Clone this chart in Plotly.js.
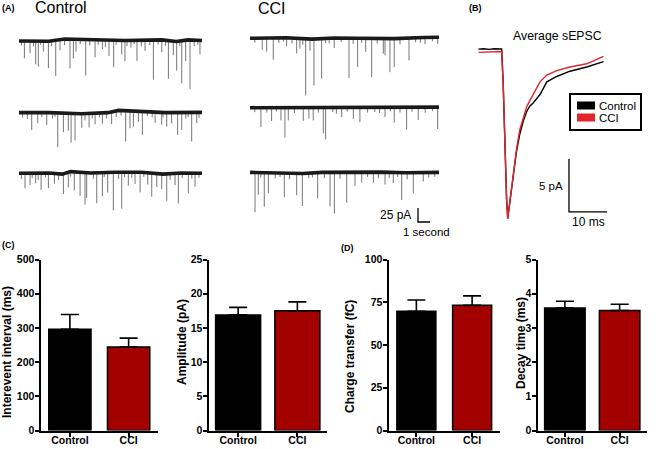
<!DOCTYPE html>
<html><head><meta charset="utf-8">
<script src="https://cdn.plot.ly/plotly-3.0.1.min.js"></script>
<style>html,body{margin:0;padding:0;background:#fff}#chart{width:667px;height:449px}</style>
</head><body><div id="chart"></div>
<script>
// ---------- DATA ----------
const groups = ["Control", "CCI"];
const intervalMean = [296, 244];
const intervalSem = [43, 26];
const ampMean = [16.9, 17.5];
const ampSem = [1.1, 1.3];
const chargeMean = [69.7, 73.2];
const chargeSem = [6.6, 5.5];
const decayMean = [3.58, 3.51];
const decaySem = [0.2, 0.18];

// Panel B: average sEPSC (time ms, current pA)
const avgTimeCtrl = [-6.2,-4.8,-3.4,-2.0,-0.6,-0.1,0.3,0.8,1.2,1.5,1.9,2.4,2.97,3.8,4.7,5.6,6.5,7.3,8.2,9.1,10.0,11.8,14.4,17.9,22.3,26.7];
const avgCurCtrl  = [0.08,0.12,0.06,0.12,0.1,0.1,-3,-9.5,-14,-15.9,-14.8,-13.2,-11.6,-9.6,-7.9,-6.7,-5.8,-5.3,-5.0,-4.6,-4.2,-3.0,-2.5,-2.0,-1.6,-1.1];
const avgTimeCci  = [-6.2,-4.8,-3.4,-2.0,-0.6,-0.1,0.3,0.8,1.2,1.5,1.9,2.4,2.97,3.8,4.7,5.6,6.5,7.3,8.2,9.1,10.0,11.8,14.4,17.9,22.3,26.7];
const avgCurCci   = [-0.22,-0.2,-0.24,-0.18,-0.16,-0.15,-3,-9.5,-14,-15.9,-14.8,-13.2,-11.5,-9.4,-7.5,-6.3,-5.35,-4.8,-4.25,-3.6,-3.0,-2.36,-1.95,-1.6,-1.3,-0.6];

// Panel A: sEPSC event times (s) and amplitudes (pA) per sweep, plus baseline drift
const ctrl1Times = [0.45,0.92,1.39,1.61,2.03,2.45,3.06,3.42,4.25,4.53,4.75,5.56,6.34,6.95,7.5,7.89,8.56,8.83,9.33,9.83,10.5,11.2,11.9,12.45,12.86,13.14,13.56,13.89,14.25,15.08, 0.2,1.2,1.8,2.7,3.8,5.1,5.9,6.6,7.2,8.1,9.0,9.6,10.2,10.9,11.6,12.2,13.4,14.6,14.9];
const ctrl1Amps  = [31,22,42,46,19,48,64,19,52,34,22,64,31,16,28,48,25,37,13,37,19,71,22,68,25,52,76,37,88,25, 8,10,7,9,11,8,10,9,12,8,10,7,11,9,8,10,9,11,8];
const ctrl1BaseT = [0,1.3,2.5,3.8,5.2,6.9,8.8,10.8,11.9,13.1,14.1,15.25];
const ctrl1BaseV = [-0.5,0,-1,3,2,1,0.5,1,1.5,-1.5,1.5,0.5];

const ctrl2Times = [1.06,1.56,2.31,3.23,3.7,4.11,4.34,4.67,5.23,5.84,6.34,6.95,7.72,8.89,9.25,9.53,9.95,10.28,11.34,11.89,12.31,12.72,13.22,13.56,14.39,14.81, 0.3,0.7,1.9,2.8,3.0,5.5,6.1,6.7,7.3,8.1,8.5,10.7,11.1,12.0,13.9,14.1,15.0];
const ctrl2Amps  = [31,19,22,61,34,31,52,48,25,25,20,19,22,55,31,28,19,42,19,22,25,19,40,31,52,19, 9,11,8,10,7,12,9,8,10,11,9,8,10,9,11,8,10];
const ctrl2BaseT = [0,2.5,5.2,7.4,8.3,10.8,12.2,15.25];
const ctrl2BaseV = [0,0,-2,0,4,2,0,0.5];

const ctrl3Times = [0.5,0.92,1.39,1.84,2.45,2.95,3.7,4.11,4.61,5.09,5.5,5.64,6.48,6.95,7.39,7.86,8.56,9.11,9.67,10.09,10.73,11.06,11.48,11.89,12.31,13.0,13.28,14.11,14.67, 0.2,1.1,1.6,2.2,3.3,4.3,6.2,7.1,8.3,8.8,9.4,10.4,12.6,13.6,14.4,15.0];
const ctrl3Amps  = [27,21,18,30,27,18,36,27,33,42,57,45,54,42,36,68,65,24,21,36,21,42,24,27,48,21,54,36,24, 10,9,12,8,11,9,10,8,12,9,10,8,11,9,10,8];
const ctrl3BaseT = [0,2.5,3.6,4.3,6.0,8.0,10.2,12.0,13.5,15.25];
const ctrl3BaseV = [0,0.5,-1.5,3,0.5,2,2,-1.5,0.5,0];

const cci1Times = [1.02,1.39,1.94,3.05,3.89,4.16,4.64,5.0,5.33,5.97,7.02,8.25,8.97,9.64,10.14,11.11,11.25,11.66,12.02,13.25,14.58,15.64, 0.4,2.4,2.8,3.5,4.4,6.3,6.6,7.6,8.6,9.3,10.6,12.5,13.8,14.2,15.2];
const cci1Amps  = [21,24,39,15,27,18,101,21,83,71,18,71,51,24,69,27,30,60,51,40,12,12, 8,9,7,10,11,8,9,7,10,8,9,11,8,9,7];
const cci1BaseT = [0,3,5.2,7,9,12,14.5,15.75];
const cci1BaseV = [0,1,-1.5,0.5,0,-0.5,1.5,2];

const cci2Times = [0.91,1.8,2.58,2.91,3.19,4.44,4.91,5.27,6.11,6.3,7.64,8.61,9.16,11.25,12.02,13.05,14.02,15.64, 0.4,1.4,2.2,3.7,5.7,6.9,7.2,8.1,9.8,10.4,10.8,11.7,12.5,13.5,14.6,15.2];
const cci2Amps  = [35,24,23,54,23,24,20,23,46,57,17,20,26,17,27,40,23,39, 8,9,7,10,9,8,11,7,9,8,10,7,9,8,10,7];
const cci2BaseT = [0,4,8,12,15.75];
const cci2BaseV = [0,0.5,0,0.5,1];

const cci3Times = [0.42,0.69,1.19,1.53,2.86,3.89,4.36,5.64,6.67,7.03,8.06,8.75,9.31,10.28,11.25,11.94,12.64,13.61,14.44, 0.9,2.1,2.5,3.3,4.9,5.2,6.2,7.5,9.8,10.7,11.6,12.3,13.1,14.9,15.4];
const cci3Amps  = [71,40,61,37,43,39,58,46,61,74,55,25,19,19,22,19,49,37,16, 9,10,8,11,9,8,10,12,9,11,10,8,12,9,8];
const cci3BaseT = [0,2.5,4.4,6,8.5,11,13,15.75];
const cci3BaseV = [0.5,0,-1.5,0.5,1.5,1,0,0.5];

const scalePA = 25, scaleSec = 1;   // panel A scale bar
const scaleBpA = 5, scaleBms = 10;  // panel B scale bar

// ---------- LAYOUT HELPERS ----------
const W = 667, H = 449;
const px = p => p / W, py = p => 1 - p / H;
const FONT = 'Liberation Sans, Arial, Helvetica, sans-serif';
const RED = '#e3232b', DARKRED = '#a30000';

function interp(ts, vs, t) {
  if (t <= ts[0]) return vs[0];
  for (let i = 1; i < ts.length; i++) {
    if (t <= ts[i]) { const f = (t - ts[i-1]) / (ts[i] - ts[i-1]); return vs[i-1] + f * (vs[i] - vs[i-1]); }
  }
  return vs[vs.length - 1];
}

const sweeps = [
  {t: ctrl1Times, a: ctrl1Amps, bt: ctrl1BaseT, bv: ctrl1BaseV, xo: 0, yo: -72.7},
  {t: ctrl2Times, a: ctrl2Amps, bt: ctrl2BaseT, bv: ctrl2BaseV, xo: 0, yo: -201.2},
  {t: ctrl3Times, a: ctrl3Amps, bt: ctrl3BaseT, bv: ctrl3BaseV, xo: 0, yo: -309.5},
  {t: cci1Times, a: cci1Amps, bt: cci1BaseT, bv: cci1BaseV, xo: 19.25, yo: -68.4},
  {t: cci2Times, a: cci2Amps, bt: cci2BaseT, bv: cci2BaseV, xo: 19.25, yo: -192.3},
  {t: cci3Times, a: cci3Amps, bt: cci3BaseT, bv: cci3BaseV, xo: 19.25, yo: -308.4}
];

const traces = [];
sweeps.forEach(s => {
  const x = [], y = [];
  s.t.forEach((t, i) => {
    const b = s.yo + interp(s.bt, s.bv, t);
    x.push(s.xo + t, s.xo + t, null);
    y.push(b, b - s.a[i], null);
  });
  traces.push({type: 'scatter', mode: 'lines', x, y, xaxis: 'x', yaxis: 'y',
    line: {color: '#767676', width: 1}, hoverinfo: 'skip', connectgaps: false});
});
sweeps.forEach(s => {
  traces.push({type: 'scatter', mode: 'lines', x: s.bt.map(t => t + s.xo), y: s.bv.map(v => v + s.yo),
    xaxis: 'x', yaxis: 'y', line: {color: '#1a1a1a', width: 3.6}, hoverinfo: 'skip'});
});
// panel A scale bar
const sbx = 33.25, sby = -396.4;
traces.push({type: 'scatter', mode: 'lines', x: [sbx, sbx, sbx + scaleSec], y: [sby + scalePA, sby, sby],
  xaxis: 'x', yaxis: 'y', line: {color: '#000', width: 1.3}, hoverinfo: 'skip'});

// panel B
traces.push({type: 'scatter', mode: 'lines', x: avgTimeCtrl, y: avgCurCtrl, xaxis: 'x2', yaxis: 'y2',
  line: {color: '#000', width: 1.4}, hoverinfo: 'skip'});
traces.push({type: 'scatter', mode: 'lines', x: avgTimeCci, y: avgCurCci, xaxis: 'x2', yaxis: 'y2',
  line: {color: RED, width: 1.4}, hoverinfo: 'skip'});
const bbx = 17.63, bby = -15.28;
traces.push({type: 'scatter', mode: 'lines', x: [bbx, bbx, bbx + scaleBms], y: [bby + scaleBpA, bby, bby],
  xaxis: 'x2', yaxis: 'y2', line: {color: '#000', width: 1.3}, hoverinfo: 'skip'});

// bar panels
const barSets = [
  {m: intervalMean, e: intervalSem, ax: '3', w: 0.72},
  {m: ampMean, e: ampSem, ax: '4', w: 0.76},
  {m: chargeMean, e: chargeSem, ax: '5', w: 0.7},
  {m: decayMean, e: decaySem, ax: '6', w: 0.74}
];
barSets.forEach(b => {
  traces.push({type: 'bar', x: groups, y: b.m, xaxis: 'x' + b.ax, yaxis: 'y' + b.ax, width: b.w,
    marker: {color: ['#000', DARKRED], line: {color: '#000', width: 1.5}},
    error_y: {type: 'data', array: b.e, arrayminus: [0, 0], symmetric: false, color: '#000', thickness: 1.6, width: 9},
    hoverinfo: 'skip'});
});

function hidden(dom, range) { return {domain: dom, range: range, visible: false, fixedrange: true}; }
function barX(x0, x1, anchor) {
  return {domain: [px(x0), px(x1)], anchor: anchor, type: 'category', range: [-0.5, 1.5],
    showline: true, linewidth: 2, linecolor: '#000', ticks: 'outside', ticklen: 4, tickwidth: 2, tickcolor: '#000',
    ticklabelstandoff: -5,
    tickfont: {family: FONT, size: 10.5, color: '#000', weight: 'bold'}, showgrid: false, zeroline: false, fixedrange: true};
}
function barY(range, dtick, anchor) {
  return {domain: [py(430.5), py(259.5)], anchor: anchor, range: range, dtick: dtick, tick0: 0,
    showline: true, linewidth: 2, linecolor: '#000', ticks: 'outside', ticklen: 4, tickwidth: 2, tickcolor: '#000',
    ticklabelstandoff: -2,
    tickfont: {family: FONT, size: 10.5, color: '#000', weight: 'bold'}, showgrid: false, zeroline: false, fixedrange: true};
}

function ann(text, x, y, size, opts) {
  return Object.assign({text: text, x: px(x), y: py(y), xref: 'paper', yref: 'paper', showarrow: false,
    xanchor: 'center', yanchor: 'middle', font: {family: FONT, size: size, color: '#000'}}, opts || {});
}
const annotations = [
  ann('<b>(A)</b>', 8.5, 7.5, 9),
  ann('<b>(B)</b>', 475, 7.5, 9),
  ann('<b>(C)</b>', 8, 245, 9),
  ann('<b>(D)</b>', 347, 248, 9),
  ann(groups[0], 60.5, 7.5, 16),
  ann(groups[1], 271.5, 8, 16),
  ann(scalePA + ' pA', 413, 215, 12, {xanchor: 'right'}),
  ann(scaleSec + ' second', 426, 232, 11.5),
  ann('Average sEPSC', 557.5, 36, 12.3),
  ann(scaleBpA + ' pA', 565, 186, 11.5, {xanchor: 'right'}),
  ann(scaleBms + ' ms', 588, 221.5, 12),
  ann(groups[0], 597, 105.5, 11.5, {xanchor: 'left'}),
  ann(groups[1], 597, 117.5, 11.5, {xanchor: 'left'}),
  ann('<b>Interevent interval (ms)</b>', 7, 352, 12, {textangle: -90}),
  ann('<b>Amplitude (pA)</b>', 182, 342, 12, {textangle: -90}),
  ann('<b>Charge transfer (fC)</b>', 350, 356, 12, {textangle: -90}),
  ann('<b>Decay time (ms)</b>', 521, 343, 12, {textangle: -90})
];

const shapes = [
  {type: 'rect', xref: 'paper', yref: 'paper', x0: px(570), x1: px(641), y0: py(130), y1: py(94),
    line: {color: '#000', width: 2}, fillcolor: 'rgba(0,0,0,0)'},
  {type: 'rect', xref: 'paper', yref: 'paper', x0: px(577), x1: px(595), y0: py(109.5), y1: py(101.5),
    line: {width: 0}, fillcolor: '#000'},
  {type: 'rect', xref: 'paper', yref: 'paper', x0: px(577), x1: px(595), y0: py(121.5), y1: py(113.5),
    line: {width: 0}, fillcolor: RED}
];

const layout = {
  width: W, height: H, margin: {l: 0, r: 0, t: 0, b: 0}, showlegend: false,
  paper_bgcolor: '#fff', plot_bgcolor: 'rgba(0,0,0,0)', bargap: 0.3,
  xaxis: Object.assign(hidden([0, px(450)], [-19/12, (450-19)/12]), {anchor: 'y'}),
  yaxis: Object.assign(hidden([py(240), 1], [-240/0.56, 0]), {anchor: 'x'}),
  xaxis2: Object.assign(hidden([px(460), 1], [(460-502)/3.8, (667-502)/3.8]), {anchor: 'y2'}),
  yaxis2: Object.assign(hidden([py(240), 1], [-(240-50)/10.6, 50/10.6]), {anchor: 'x2'}),
  xaxis3: barX(40.5, 158, 'y3'), yaxis3: barY([0, 500], 100, 'x3'),
  xaxis4: barX(208.5, 327, 'y4'), yaxis4: barY([0, 25], 5, 'x4'),
  xaxis5: barX(388.5, 500, 'y5'), yaxis5: barY([0, 100], 25, 'x5'),
  xaxis6: barX(537.5, 647, 'y6'), yaxis6: barY([0, 5], 1, 'x6'),
  annotations: annotations, shapes: shapes
};

Plotly.newPlot('chart', traces, layout, {staticPlot: true, displayModeBar: false});
</script>
</body></html>
